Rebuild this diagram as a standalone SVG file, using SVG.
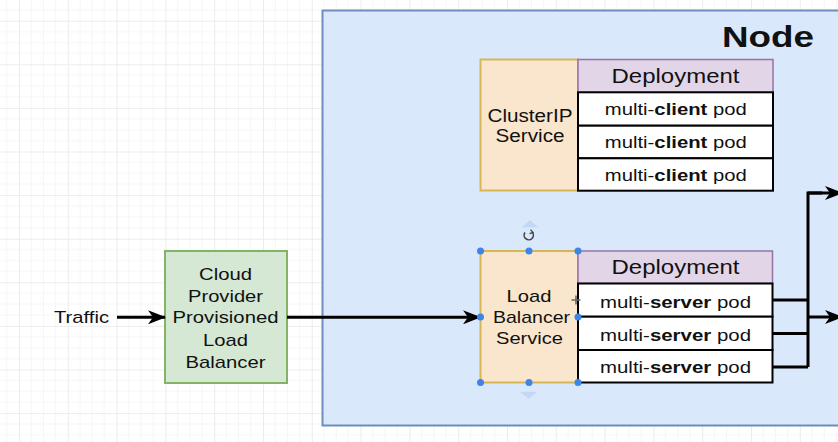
<svg xmlns="http://www.w3.org/2000/svg" width="838" height="442" viewBox="0 0 838 442">
<style>
text{font-family:"Liberation Sans",Arial,sans-serif;fill:#111;}
.t17{font-size:17px;}
.dep{font-size:20.5px;}
.svc{fill:#f9e6cc;stroke:#d6b656;stroke-width:2;}
.hdr{fill:#e1d5e7;stroke:#9673a6;stroke-width:1.5;}
.pod{fill:#ffffff;stroke:#000;stroke-width:2;}
.conn{fill:none;stroke:#000;stroke-width:3;}
.h{fill:#3b86e8;}
</style>
<defs>
<pattern id="grid" x="-29.8" y="-22.9" width="48.8" height="43.6" patternUnits="userSpaceOnUse">
<path d="M12.2,0V43.6M24.4,0V43.6M36.6,0V43.6M0,10.9H48.8M0,21.8H48.8M0,32.7H48.8" stroke="#f5f5f5" stroke-width="1" fill="none"/>
<path d="M0.5,0V43.6M0,0.5H48.8" stroke="#ececec" stroke-width="1" fill="none"/>
</pattern>
<marker id="arr" viewBox="0 0 18 14" refX="17" refY="7" markerWidth="18" markerHeight="14" markerUnits="userSpaceOnUse" orient="auto">
<path d="M0,0 L18,7 L0,14 L5,7 z" fill="#000"/>
</marker>
</defs>
<rect x="0" y="0" width="838" height="442" fill="#ffffff"/>
<rect x="0" y="0" width="838" height="442" fill="url(#grid)"/>

<g id="node">
<rect x="322.5" y="10.5" width="530" height="415" fill="#dae8fc" stroke="#6c8ebf" stroke-width="2"/>
<text x="722" y="47" font-size="29" font-weight="bold" textLength="92" lengthAdjust="spacingAndGlyphs">Node</text>
</g>

<g id="traffic">
<text class="t17" x="54" y="323" textLength="55" lengthAdjust="spacingAndGlyphs">Traffic</text>
</g>

<g id="cloud-lb">
<rect x="165" y="251" width="122" height="132" fill="#d5e8d4" stroke="#82b366" stroke-width="2"/>
<text class="t17" text-anchor="middle" x="225.5" y="280" textLength="53" lengthAdjust="spacingAndGlyphs">Cloud</text>
<text class="t17" text-anchor="middle" x="225.5" y="301.7" textLength="75" lengthAdjust="spacingAndGlyphs">Provider</text>
<text class="t17" text-anchor="middle" x="225.5" y="323.3" textLength="106" lengthAdjust="spacingAndGlyphs">Provisioned</text>
<text class="t17" text-anchor="middle" x="225.5" y="345.5" textLength="45" lengthAdjust="spacingAndGlyphs">Load</text>
<text class="t17" text-anchor="middle" x="225.5" y="367.5" textLength="80" lengthAdjust="spacingAndGlyphs">Balancer</text>
</g>

<g id="clusterip-service">
<rect class="svc" x="480.5" y="59.5" width="97.5" height="131"/>
<text font-size="18" text-anchor="middle" x="530" y="121.7" textLength="85" lengthAdjust="spacingAndGlyphs">ClusterIP</text>
<text font-size="18" text-anchor="middle" x="530" y="141.7" textLength="69" lengthAdjust="spacingAndGlyphs">Service</text>
</g>

<g id="client-deployment">
<rect class="hdr" x="578" y="59.5" width="195" height="33"/>
<text class="dep" text-anchor="middle" x="675.5" y="82.7" textLength="128" lengthAdjust="spacingAndGlyphs">Deployment</text>
<rect class="pod" x="578" y="92.3" width="195" height="33.4"/>
<text class="t17" text-anchor="middle" x="675.8" y="115" textLength="142" lengthAdjust="spacingAndGlyphs">multi-<tspan font-weight="bold">client</tspan> pod</text>
<rect class="pod" x="578" y="125.7" width="195" height="32.6"/>
<text class="t17" text-anchor="middle" x="675.8" y="148" textLength="142" lengthAdjust="spacingAndGlyphs">multi-<tspan font-weight="bold">client</tspan> pod</text>
<rect class="pod" x="578" y="158.3" width="195" height="32.4"/>
<text class="t17" text-anchor="middle" x="675.8" y="181" textLength="142" lengthAdjust="spacingAndGlyphs">multi-<tspan font-weight="bold">client</tspan> pod</text>
</g>

<g id="lb-service">
<rect class="svc" x="480.5" y="251" width="97.5" height="131.5"/>
<text class="t17" text-anchor="middle" x="529" y="301.7" textLength="45" lengthAdjust="spacingAndGlyphs">Load</text>
<text class="t17" text-anchor="middle" x="531.5" y="322.7" textLength="77" lengthAdjust="spacingAndGlyphs">Balancer</text>
<text class="t17" text-anchor="middle" x="529.5" y="344.3" textLength="67" lengthAdjust="spacingAndGlyphs">Service</text>
</g>

<g id="server-deployment">
<rect class="hdr" x="578" y="251" width="194.5" height="32.5"/>
<text class="dep" text-anchor="middle" x="675.5" y="274.3" textLength="128" lengthAdjust="spacingAndGlyphs">Deployment</text>
<rect class="pod" x="578" y="283.5" width="194.5" height="33.2"/>
<text class="t17" text-anchor="middle" x="675.5" y="307.7" textLength="151" lengthAdjust="spacingAndGlyphs">multi-<tspan font-weight="bold">server</tspan> pod</text>
<rect class="pod" x="578" y="316.7" width="194.5" height="33.3"/>
<text class="t17" text-anchor="middle" x="675.5" y="340.7" textLength="151" lengthAdjust="spacingAndGlyphs">multi-<tspan font-weight="bold">server</tspan> pod</text>
<rect class="pod" x="578" y="350" width="194.5" height="32.5"/>
<text class="t17" text-anchor="middle" x="675.5" y="373.3" textLength="151" lengthAdjust="spacingAndGlyphs">multi-<tspan font-weight="bold">server</tspan> pod</text>
</g>

<g id="connectors">
<path class="conn" d="M117,317.3 H165" marker-end="url(#arr)"/>
<path class="conn" d="M287,317.3 H480" marker-end="url(#arr)"/>
<path class="conn" d="M773,300 H808 M773,333.5 H808 M773,367 H808 M808,367 V193 H822"/>
<path class="conn" d="M808,193 H842" marker-end="url(#arr)"/>
<path class="conn" d="M808,317 H842" marker-end="url(#arr)"/>
</g>

<g id="selection">
<path d="M521.7,227.3 L530,220 L538.3,227.3 z" fill="#c4d8f6"/>
<path d="M520,391.7 L528.7,399 L537.3,391.7 z" fill="#c4d8f6"/>
<path d="M525,232.5 A4.6,4.6 0 1 0 532.2,232.2" fill="none" stroke="#444" stroke-width="1.6"/>
<path d="M530.5,229.6 L533,232.4 L529.6,233.6" fill="none" stroke="#444" stroke-width="1.3"/>
<circle class="h" cx="480.5" cy="251" r="3.5"/>
<circle class="h" cx="529" cy="251" r="3.5"/>
<circle class="h" cx="578" cy="251" r="3.5"/>
<circle class="h" cx="480.5" cy="317" r="3.5"/>
<circle class="h" cx="578" cy="317" r="3.5"/>
<circle class="h" cx="480.5" cy="382.5" r="3.5"/>
<circle class="h" cx="529" cy="382.5" r="3.5"/>
<circle class="h" cx="578" cy="382.5" r="3.5"/>
<path d="M576,295.5 V304.5 M571.5,300 H580.5" stroke="#666" stroke-width="1.6"/>
</g>
</svg>
